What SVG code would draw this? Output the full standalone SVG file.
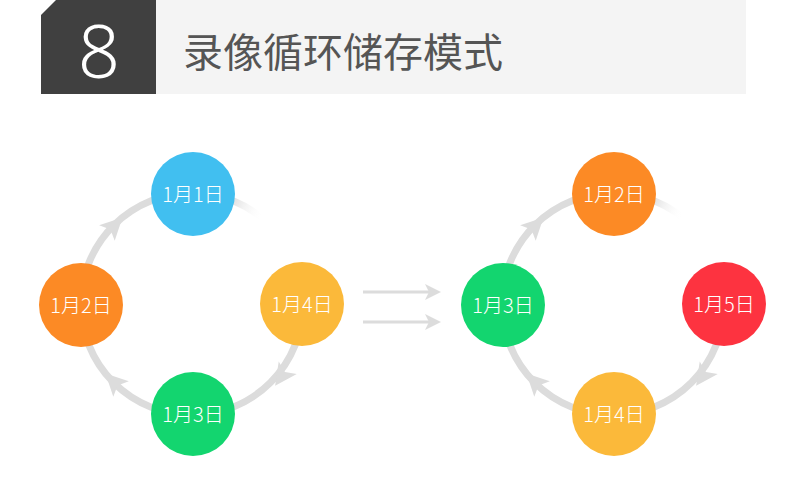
<svg xmlns="http://www.w3.org/2000/svg" width="790" height="494" viewBox="0 0 790 494">
<style>
.arc{fill:none;stroke:#dcdcdc;stroke-width:7}
.lbl{fill:#fff;font-family:"Noto Sans CJK SC","Noto Sans",sans-serif;font-size:20px;font-weight:300;text-anchor:middle}
.ah{fill:#dcdcdc}
.ml{stroke:#dcdcdc;stroke-width:3}
</style>
<defs>
<polygon id="head" points="12,0 -10,-11 -5,0 -10,11"/>
<linearGradient id="fadeL" gradientUnits="userSpaceOnUse" x1="232" y1="198" x2="264" y2="214"><stop offset="0" stop-color="#dcdcdc"/><stop offset="1" stop-color="#fff" stop-opacity="0"/></linearGradient>
<linearGradient id="fadeR" gradientUnits="userSpaceOnUse" x1="652" y1="198" x2="684" y2="214"><stop offset="0" stop-color="#dcdcdc"/><stop offset="1" stop-color="#fff" stop-opacity="0"/></linearGradient>
</defs>
<g id="header">
<polygon points="41,15 56,0 156,0 156,94 41,94" fill="#404040"/>
<rect x="156" y="0" width="590" height="94" fill="#f4f4f4"/>
<text x="99" y="78" font-family="Noto Sans, sans-serif" font-size="74" font-weight="300" fill="#fff" text-anchor="middle">8</text>
<text x="183" y="67" font-family="Noto Sans CJK SC, sans-serif" font-size="40" fill="#555">录像循环储存模式</text>
</g>
<g id="connectors">
<path class="arc" d="M81,304 A111,111 0 0 1 192,193"/>
<path class="arc" d="M192,415 A111,111 0 0 1 81,304"/>
<path class="arc" d="M303,304 A111,111 0 0 1 192,415"/>
<path class="arc" style="stroke:url(#fadeL)" d="M192,193 A111,111 0 0 1 270,225"/>
<use href="#head" class="ah" transform="translate(114,226) rotate(-45)"/>
<use href="#head" class="ah" transform="translate(114,382) rotate(-135)"/>
<use href="#head" class="ah" transform="translate(282,376) rotate(125)"/>
<path class="arc" d="M502,304 A111,111 0 0 1 613,193"/>
<path class="arc" d="M613,415 A111,111 0 0 1 502,304"/>
<path class="arc" d="M724,304 A111,111 0 0 1 613,415"/>
<path class="arc" style="stroke:url(#fadeR)" d="M613,193 A111,111 0 0 1 691,225"/>
<use href="#head" class="ah" transform="translate(535,226) rotate(-45)"/>
<use href="#head" class="ah" transform="translate(535,382) rotate(-135)"/>
<use href="#head" class="ah" transform="translate(703,376) rotate(125)"/>
<line class="ml" x1="363" y1="292" x2="430" y2="292"/>
<line class="ml" x1="363" y1="322" x2="430" y2="322"/>
<polygon class="ah" points="441,292 425,284 429,292 425,300"/>
<polygon class="ah" points="441,322 425,314 429,322 425,330"/>
</g>
<g id="n1"><circle cx="193" cy="194" r="42" fill="#41bff0"/><text class="lbl" x="193" y="202">1月1日</text></g>
<g id="n2"><circle cx="81" cy="305" r="42" fill="#fc8a25"/><text class="lbl" x="81" y="313">1月2日</text></g>
<g id="n4"><circle cx="302" cy="304" r="42" fill="#fbb93a"/><text class="lbl" x="302" y="312">1月4日</text></g>
<g id="n3"><circle cx="193" cy="414" r="42" fill="#13d56f"/><text class="lbl" x="193" y="422">1月3日</text></g>
<g id="r2"><circle cx="614" cy="194" r="42" fill="#fc8a25"/><text class="lbl" x="614" y="202">1月2日</text></g>
<g id="r3"><circle cx="503" cy="305" r="42" fill="#13d56f"/><text class="lbl" x="503" y="313">1月3日</text></g>
<g id="r5"><circle cx="724" cy="304" r="42" fill="#fd3340"/><text class="lbl" x="724" y="312">1月5日</text></g>
<g id="r4"><circle cx="614" cy="414" r="42" fill="#fbb93a"/><text class="lbl" x="614" y="422">1月4日</text></g>
</svg>
